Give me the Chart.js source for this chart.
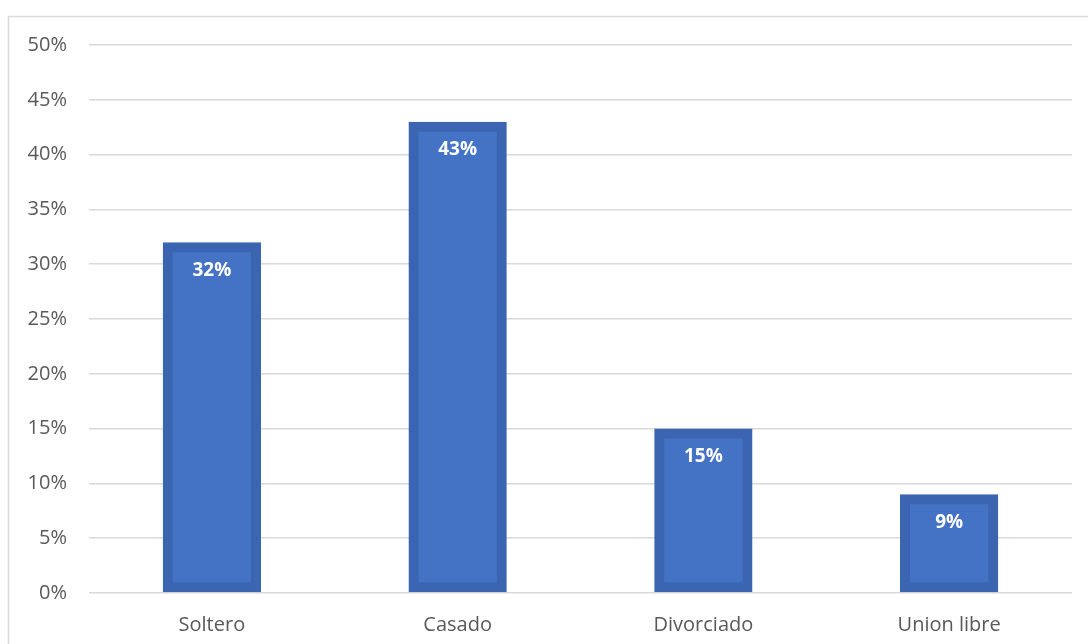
<!DOCTYPE html>
<html>
<head>
<meta charset="utf-8">
<script src="https://cdn.jsdelivr.net/npm/chart.js@4/dist/chart.umd.min.js"></script>
<style>
html,body{margin:0;padding:0;background:#fff;}
#wrap{width:1088px;height:644px;position:relative;}
</style>
</head>
<body>
<div id="wrap"><canvas id="c" width="1088" height="644"></canvas></div>
<script>
const categories = ["Soltero", "Casado", "Divorciado", "Union libre"];
const values = [32, 43, 15, 9];
const yTicks = [0, 5, 10, 15, 20, 25, 30, 35, 40, 45, 50];

const frame = {
  id: 'frame',
  beforeDraw(chart) {
    const ctx = chart.ctx;
    ctx.save();
    ctx.strokeStyle = '#d9d9d9';
    ctx.lineWidth = 1.5;
    ctx.beginPath();
    ctx.moveTo(8.5, 700);
    ctx.lineTo(8.5, 16.5);
    ctx.lineTo(1100, 16.5);
    ctx.stroke();
    ctx.restore();
  }
};

// fills behind each bar to hide anti-aliasing seams between border and fill
const underlay = {
  id: 'underlay',
  beforeDatasetsDraw(chart) {
    const ctx = chart.ctx;
    const meta = chart.getDatasetMeta(0);
    ctx.save();
    ctx.fillStyle = '#3F6BBA';
    meta.data.forEach(bar => {
      const p = bar.getProps(['x', 'y', 'base', 'width'], true);
      ctx.fillRect(p.x - p.width / 2 + 5, p.y + 5, p.width - 10, p.base - p.y - 10);
    });
    ctx.restore();
  }
};

const labels = {
  id: 'labels',
  afterDatasetsDraw(chart) {
    const ctx = chart.ctx;
    const meta = chart.getDatasetMeta(0);
    ctx.save();
    ctx.fillStyle = '#ffffff';
    ctx.font = 'bold 19px "Open Sans"';
    ctx.textAlign = 'center';
    ctx.textBaseline = 'middle';
    meta.data.forEach((bar, i) => {
      ctx.fillText(values[i] + '%', bar.x, bar.y + 28);
    });
    ctx.restore();
  }
};

new Chart(document.getElementById('c'), {
  type: 'bar',
  data: {
    labels: categories,
    datasets: [{
      data: values,
      backgroundColor: '#4472C4',
      borderColor: '#3B64B1',
      borderWidth: 10,
      borderSkipped: false,
      categoryPercentage: 1,
      barPercentage: 0.4
    }]
  },
  options: {
    responsive: false,
    animation: false,
    layout: { padding: { top: 45, right: 16, left: 0, bottom: 0 } },
    plugins: { legend: { display: false }, tooltip: { enabled: false } },
    scales: {
      x: {
        grid: { display: false },
        border: { display: false },
        ticks: { color: '#595959', font: { family: '"Open Sans"', size: 20 }, padding: 12 },
        afterFit(s) { s.height = 51; }
      },
      y: {
        min: 0, max: 50,
        afterBuildTicks(s) { s.ticks = yTicks.map(v => ({ value: v })); },
        grid: { color: '#d9d9d9', lineWidth: 1.5, drawTicks: false },
        border: { display: false },
        ticks: {
          color: '#595959', font: { family: '"Open Sans"', size: 20 }, padding: 22,
          callback: v => v + '%'
        },
        afterFit(s) { s.width = 89; }
      }
    }
  },
  plugins: [frame, underlay, labels]
});
</script>
</body>
</html>
